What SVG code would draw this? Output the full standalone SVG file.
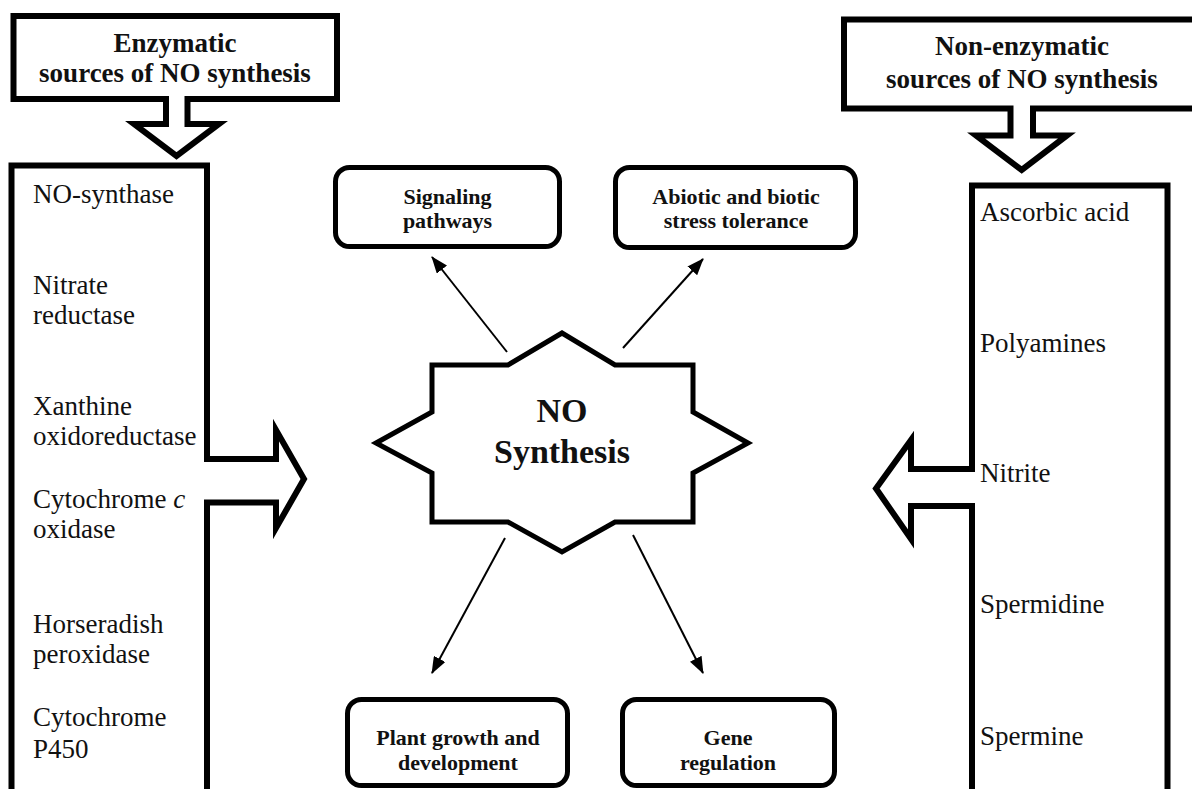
<svg xmlns="http://www.w3.org/2000/svg" width="1192" height="789" viewBox="0 0 1192 789">
<defs>
<style>
.bl{fill:#fff;stroke:#000;stroke-width:6;stroke-linejoin:miter}
.st{fill:#fff;stroke:#000;stroke-width:5;stroke-linejoin:miter}
.rb{fill:#fff;stroke:#000;stroke-width:5}
.hd{font-family:"Liberation Serif","Times New Roman",serif;font-weight:bold;font-size:27px;text-anchor:middle;fill:#111}
.it{font-family:"Liberation Serif","Times New Roman",serif;font-size:27px;fill:#111}
.bx{font-family:"Liberation Serif","Times New Roman",serif;font-weight:bold;font-size:22px;text-anchor:middle;fill:#111}
.cn{font-family:"Liberation Serif","Times New Roman",serif;font-weight:bold;font-size:34px;text-anchor:middle;fill:#111}
.ar{stroke:#000;stroke-width:2;fill:none;marker-end:url(#ah)}
</style>
<marker id="ah" markerUnits="userSpaceOnUse" markerWidth="17" markerHeight="13" refX="16" refY="6.5" orient="auto">
<path d="M0,0 L17,6.5 L0,13 Z" fill="#000"/>
</marker>
</defs>
<rect width="1192" height="789" fill="#fff"/>

<g id="enzymatic-header">
<path class="bl" d="M166,99 L13.5,99 L13.5,16 L337,16 L337,99 L187.5,99 L187.5,124 L219,124 L176.5,156 L134,124 L166,124 Z"/>
<text class="hd" x="175" y="52">Enzymatic</text>
<text class="hd" x="175" y="82">sources of NO synthesis</text>
</g>

<g id="nonenzymatic-header">
<path class="bl" d="M1010.5,108.5 L844,108.5 L844,19.5 L1200,19.5 L1200,108.5 L1033,108.5 L1033,135.5 L1067,135.5 L1021.7,170 L976,135.5 L1010.5,135.5 Z"/>
<text class="hd" x="1022" y="55">Non-enzymatic</text>
<text class="hd" x="1022" y="88">sources of NO synthesis</text>
</g>

<g id="enzymatic-list">
<path class="bl" d="M207,800 L207,502.5 L276,502.5 L276,528 L304,479 L276,430 L276,459 L207,459 L207,165.5 L11.5,165.5 L11.5,800"/>
<text class="it" x="33" y="203">NO-synthase</text>
<text class="it" x="33" y="294">Nitrate</text>
<text class="it" x="33" y="324">reductase</text>
<text class="it" x="33" y="415">Xanthine</text>
<text class="it" x="33" y="445">oxidoreductase</text>
<text class="it" x="33" y="508">Cytochrome <tspan font-style="italic">c</tspan></text>
<text class="it" x="33" y="538">oxidase</text>
<text class="it" x="33" y="633">Horseradish</text>
<text class="it" x="33" y="663">peroxidase</text>
<text class="it" x="33" y="726">Cytochrome</text>
<text class="it" x="33" y="758">P450</text>
</g>

<g id="nonenzymatic-list">
<path class="bl" d="M972,800 L972,506 L911,506 L911,539 L876,488.5 L911,440 L911,469 L972,469 L972,185.5 L1167.5,185.5 L1167.5,800"/>
<text class="it" x="980" y="221">Ascorbic acid</text>
<text class="it" x="980" y="352">Polyamines</text>
<text class="it" x="980" y="482">Nitrite</text>
<text class="it" x="980" y="613">Spermidine</text>
<text class="it" x="980" y="745">Spermine</text>
</g>

<g id="no-synthesis">
<path class="st" d="M562,333 L508,365 L432,365 L432,412 L376,443 L432,473 L432,522 L508,522 L562,552 L615,522 L693,522 L693,473 L748,443 L693,412 L693,365 L615,365 Z"/>
<text class="cn" x="562" y="422">NO</text>
<text class="cn" x="562" y="463">Synthesis</text>
</g>

<g id="signaling">
<rect class="rb" x="335.5" y="167.5" width="224" height="79" rx="14"/>
<text class="bx" x="447.5" y="204">Signaling</text>
<text class="bx" x="447.5" y="228">pathways</text>
</g>

<g id="stress">
<rect class="rb" x="615.5" y="167.5" width="240" height="80" rx="14"/>
<text class="bx" x="736" y="204">Abiotic and biotic</text>
<text class="bx" x="736" y="228">stress tolerance</text>
</g>

<g id="growth">
<rect class="rb" x="347.5" y="699.5" width="220" height="86" rx="14"/>
<text class="bx" x="458" y="745">Plant growth and</text>
<text class="bx" x="458" y="770">development</text>
</g>

<g id="gene">
<rect class="rb" x="622.5" y="699.5" width="212" height="86" rx="14"/>
<text class="bx" x="728" y="745">Gene</text>
<text class="bx" x="728" y="770">regulation</text>
</g>

<g id="connectors">
<line class="ar" x1="507" y1="352" x2="432" y2="257"/>
<line class="ar" x1="623" y1="348" x2="703" y2="259"/>
<line class="ar" x1="505" y1="538" x2="432" y2="673"/>
<line class="ar" x1="633" y1="535" x2="703" y2="673"/>
</g>
</svg>
